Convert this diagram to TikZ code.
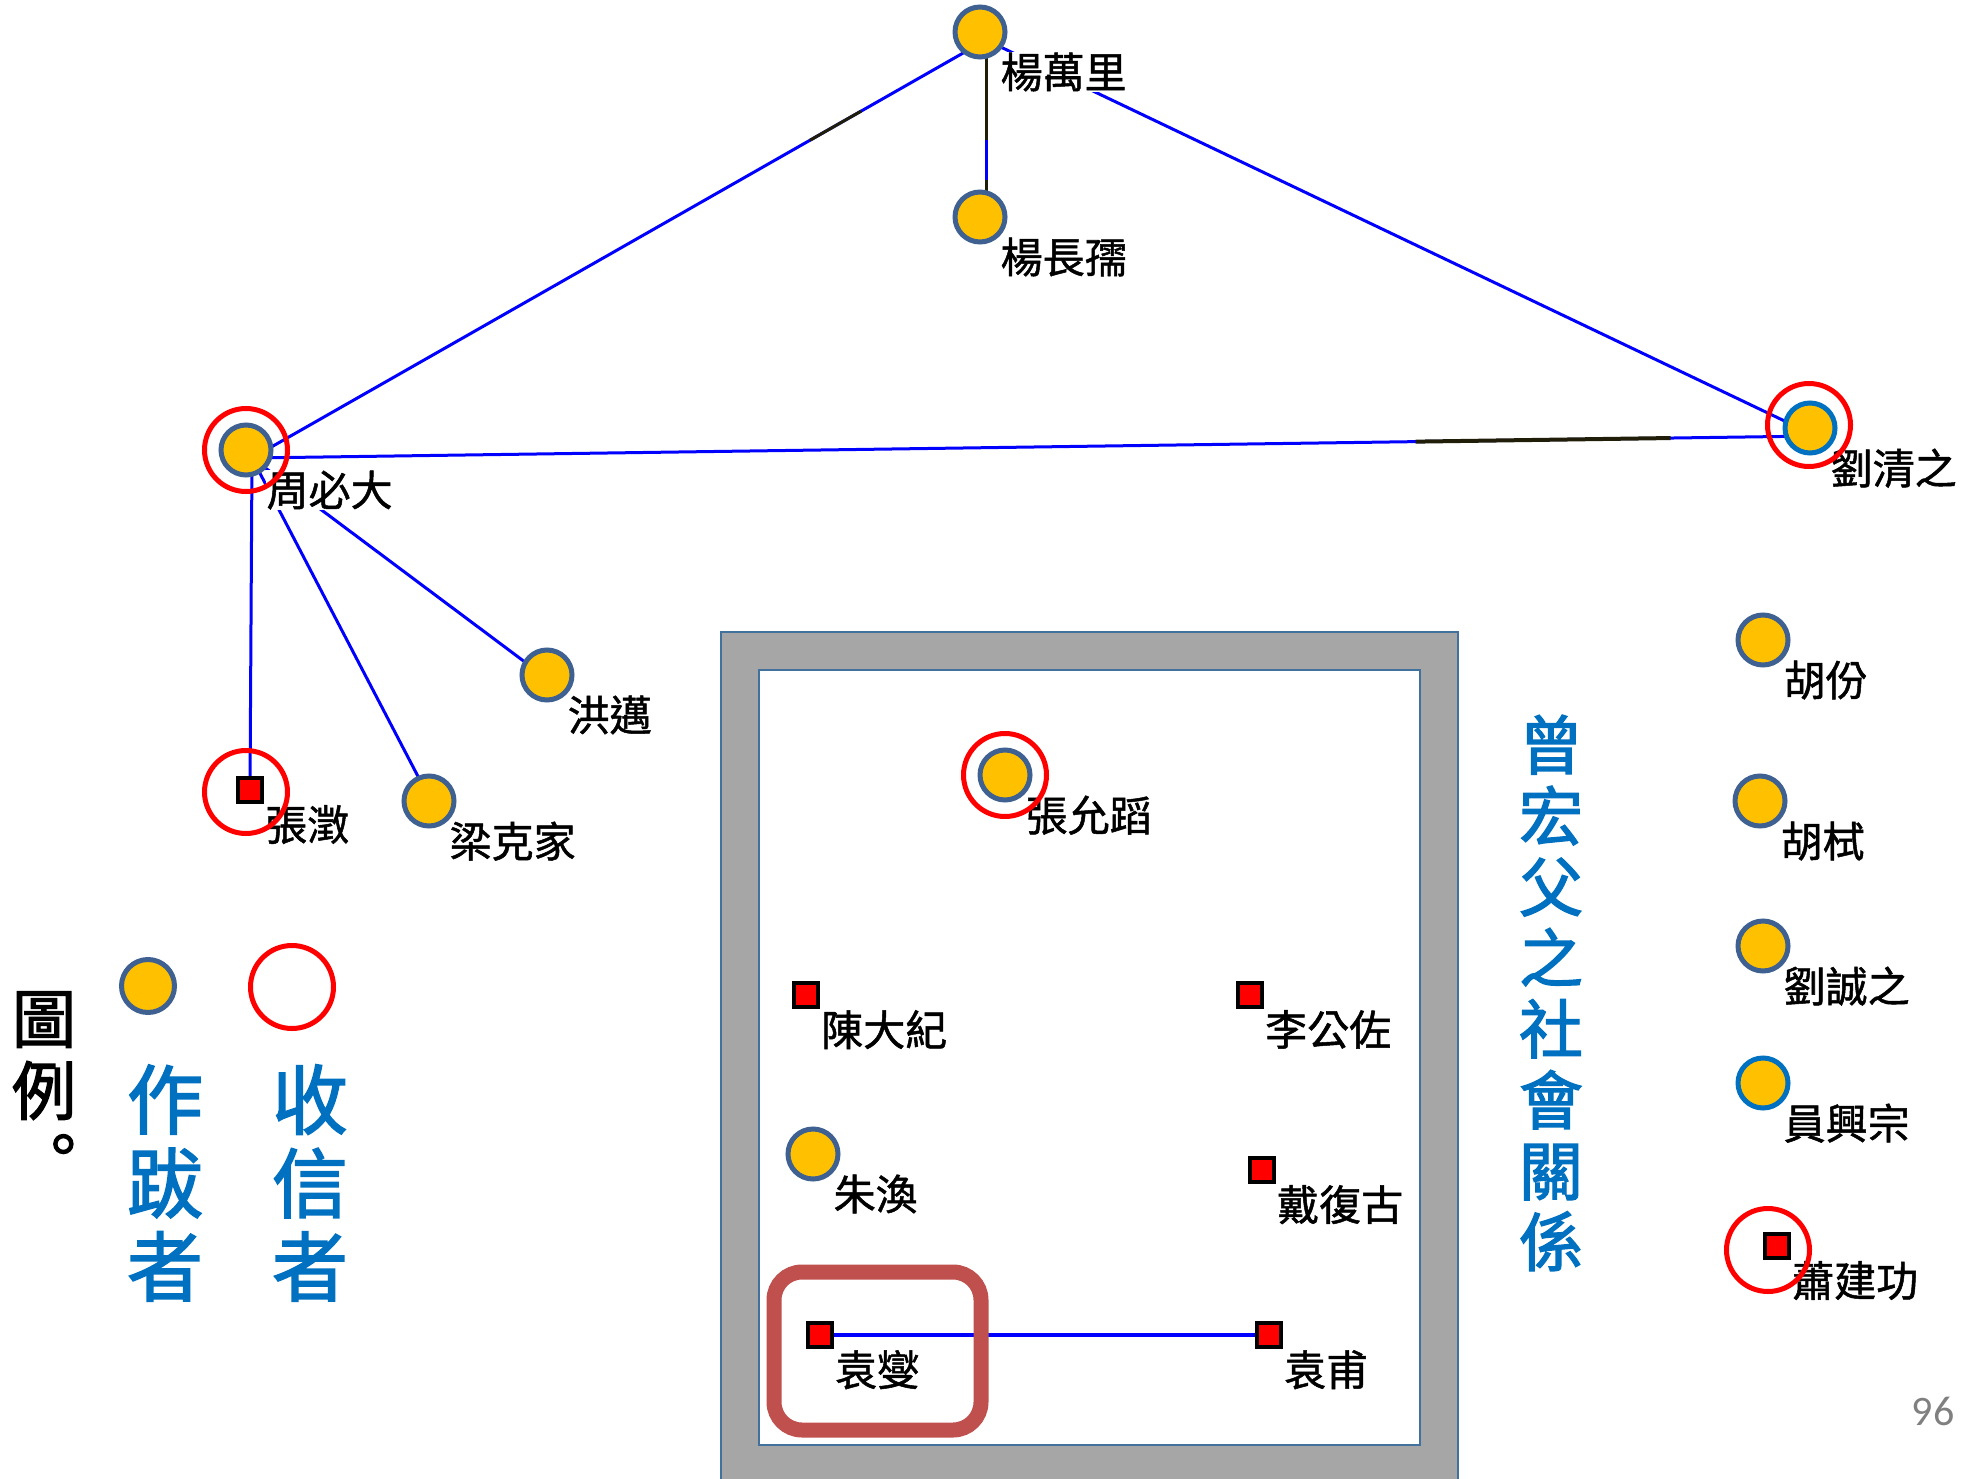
\documentclass[tikz,border=0pt]{standalone}
\usepackage{fontspec}
\setmainfont{Noto Sans CJK TC}
\newfontfamily\namefont[FakeBold=1.2]{Noto Sans CJK TC}
\newfontfamily\headfont[FakeBold=2]{Noto Sans CJK TC}
\newfontfamily\numfont{Carlito}
\usepackage{xcolor}
\usetikzlibrary{positioning, calc}
\definecolor{gold}{HTML}{FFC000}
\definecolor{steel}{HTML}{3E6191}
\definecolor{midblue}{HTML}{0070C0}
\definecolor{boxgray}{HTML}{A6A6A6}
\definecolor{boxline}{HTML}{41719C}
\definecolor{darkline}{HTML}{201E08}
\definecolor{markred}{HTML}{C0504D}
\pgfdeclarelayer{bg}
\pgfdeclarelayer{edges}
\pgfsetlayers{bg,edges,main}

\begin{document}
\begin{tikzpicture}[x=1pt, y=-1pt,
    author/.style={circle, draw=steel, line width=5pt, fill=gold, minimum size=50pt, inner sep=0pt},
    author2/.style={author, draw=midblue},
    letter/.style={rectangle, draw=black, line width=4pt, fill=red, minimum size=24pt, inner sep=0pt},
    ring/.style={circle, draw=red, line width=5pt, minimum size=83pt, inner sep=0pt},
    lbl/.style={fill=white, inner sep=1pt, font=\namefont\fontsize{42}{46}\selectfont},
    edge/.style={blue, line width=3pt},
    darkedge/.style={darkline, line width=3pt},
    vtext/.style={align=center, inner sep=0pt, text=midblue}]
            \useasboundingbox (0, 0) rectangle (1975, 1479);

            % the frame round the unlinked group
            \begin{pgfonlayer}{bg}
                \fill[boxgray] (721, 632) rectangle (1458, 1479);
                \draw[boxline, line width=2pt] (721, 1479) -- (721, 632) -- (1458, 632) -- (1458, 1479);
                \draw[boxline, line width=2pt, fill=white] (759, 670) rectangle (1420, 1445);
            \end{pgfonlayer}

            \node[author, label={[lbl]below right:楊萬里}] (ywl) at (980, 32) {};
            \node[author, label={[lbl]below right:楊長孺}] (ycr) at (980, 217) {};
            \node[author, label={[lbl]below right:周必大}] (zbd) at (246, 450) {};
            \node[author2, label={[lbl]below right:劉清之}] (lqz) at (1810, 428) {};
            \node[author, label={[lbl]below right:洪邁}] (hm) at (547, 675) {};
            \node[author, label={[lbl]below right:梁克家}] (lkj) at (429, 801) {};
            \node[letter, label={[lbl]below right:張澂}] (zc) at (250, 790) {};

            \node[author, label={[lbl]below right:張允蹈}] (zyd) at (1005, 775) {};
            \node[letter, label={[lbl]below right:陳大紀}] (cdj) at (806, 995) {};
            \node[letter, label={[lbl]below right:李公佐}] (lgz) at (1250, 995) {};
            \node[author, label={[lbl]below right:朱渙}] (zh) at (813, 1154) {};
            \node[letter, label={[lbl]below right:戴復古}] (dfg) at (1262, 1170) {};
            \node[letter, label={[lbl]below right:袁燮}] (yx) at (820, 1335) {};
            \node[letter, label={[lbl]below right:袁甫}] (yf) at (1269, 1335) {};

            \node[author, label={[lbl]below right:胡份}] (hf) at (1763, 640) {};
            \node[author, label={[lbl]below right:胡栻}] (hs) at (1760, 801) {};
            \node[author, label={[lbl]below right:劉誠之}] (lcz) at (1763, 946) {};
            \node[author2, label={[lbl]below right:員興宗}] (yxz) at (1763, 1083) {};
            \node[letter, label={[lbl]below right:蕭建功}] (xjg) at (1777, 1246) {};

            % receivers
            \node[ring] (zbd-r) at (zbd) {};
            \node[ring] (zc-r) at ([shift={(-4,2)}]zc.center) {};
            \node[ring] (lqz-r) at ([shift={(-1,-3)}]lqz.center) {};
            \node[ring] (zyd-r) at (zyd) {};
            \node[ring] (xjg-r) at ([shift={(-9,4)}]xjg.center) {};

            \begin{pgfonlayer}{edges}
                \coordinate (ywl-p) at ([shift={(6,8)}]ywl.center);
                \coordinate (ycr-p) at ([shift={(6,8)}]ycr.center);
                \coordinate (zbd-p) at ([shift={(6,8)}]zbd.center);
                \coordinate (lqz-p) at ([shift={(6,8)}]lqz.center);
                \coordinate (hm-p) at ([shift={(6,8)}]hm.center);
                \coordinate (lkj-p) at ([shift={(6,8)}]lkj.center);

                \draw[edge] (ywl-p) -- (zbd-p);
                \draw[darkedge] ($(ywl-p)!.17!(zbd-p)$) -- ($(ywl-p)!.24!(zbd-p)$);
                \draw[edge] (ywl-p) -- (lqz-p);
                \draw[darkedge] (ywl-p) -- (ycr-p);
                \draw[edge] ($(ywl-p)!.54!(ycr-p)$) -- ($(ywl-p)!.757!(ycr-p)$);
                \draw[edge] (zbd-p) -- (lqz-p);
                \draw[darkedge, line width=4pt] ($(zbd-p)!.744!(lqz-p)$) -- ($(zbd-p)!.907!(lqz-p)$);
                \draw[edge] (zbd-p) -- (zc.center);
                \draw[edge] (zbd-p) -- (hm-p);
                \draw[edge] (zbd-p) -- (lkj-p);
                \draw[edge, line width=4pt] (yx) -- (yf);
            \end{pgfonlayer}

            \draw[markred, line width=15pt, rounded corners=28pt] (774, 1272) rectangle (981, 1430);

            % legend
            \node[align=center, inner sep=0pt, font=\headfont\fontsize{64}{72}\selectfont] (key) at (44, 1089) {圖\\例\\︒};
            \node[author, minimum size=53pt] (key-a) at (148, 986) {};
            \node[ring] (key-r) at (292, 987) {};
            \node[vtext, font=\headfont\fontsize{76}{83.5}\selectfont] (key-a-t) at (165, 1183) {作\\跋\\者};
            \node[vtext, font=\headfont\fontsize{76}{83.5}\selectfont] (key-r-t) at (310, 1183) {收\\信\\者};

            \node[vtext, font=\headfont\fontsize{64}{71}\selectfont] (title) at (1551, 993) {曾\\宏\\父\\之\\社\\會\\關\\係};
            \node[text=gray, font=\numfont\fontsize{42}{46}\selectfont, anchor=base] (page) at (1933, 1425) {96};
        \end{tikzpicture}
\end{document}
